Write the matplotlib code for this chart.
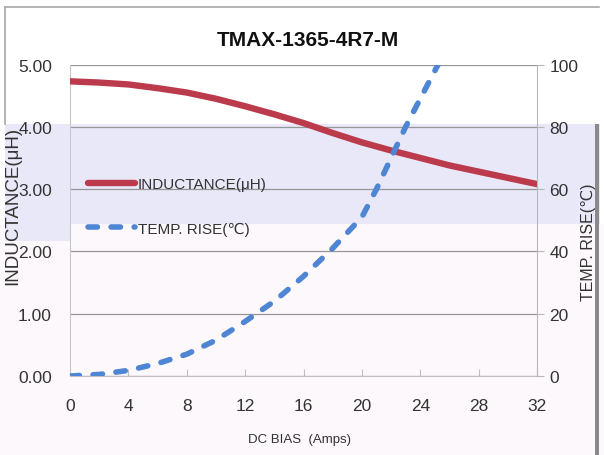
import matplotlib
matplotlib.use("Agg")
import matplotlib.pyplot as plt
from matplotlib.patches import Rectangle
from matplotlib.lines import Line2D

# ---- data ----
bias_L = [0, 2, 4, 6, 8, 10, 12, 14, 16, 18, 20, 22, 24, 26, 28, 30, 32]
inductance = [4.73, 4.71, 4.68, 4.62, 4.55, 4.45, 4.33, 4.20, 4.06, 3.90,
              3.75, 3.62, 3.50, 3.38, 3.28, 3.18, 3.08]
bias_T = [0, 2, 4, 6, 8, 10, 12, 14, 16, 18, 20, 21, 22, 23, 24, 25, 26]
temp_rise = [0, 0.5, 1.8, 4.0, 7.0, 11.5, 17.5, 24.0, 32.0, 41.0, 51.0,
             60.0, 70.0, 80.0, 89.0, 98.0, 107.0]
x_ticks = [0, 4, 8, 12, 16, 20, 24, 28, 32]
yL_ticks = [0, 1, 2, 3, 4, 5]
yL_labels = ["0.00", "1.00", "2.00", "3.00", "4.00", "5.00"]
yR_ticks = [0, 20, 40, 60, 80, 100]
title = "TMAX-1365-4R7-M"
label_L = "INDUCTANCE(μH)"
label_T = "TEMP. RISE(℃)"

FAM = ['Liberation Sans', 'DejaVu Sans', 'Noto Sans CJK SC']
plt.rcParams['font.family'] = FAM

W, H = 604, 456
fig = plt.figure(figsize=(W / 100, H / 100), dpi=100)
ft = fig.transFigure

# background bands (from the reference image)
fig.patches.append(Rectangle((0, 0), 1, 1 - 225 / H, transform=ft,
                             facecolor='#fdf8fb', edgecolor='none', zorder=-3))
fig.patches.append(Rectangle((5 / W, 1 - 225 / H), 595 / W, 100 / H, transform=ft,
                             facecolor='#e8e8f9', edgecolor='none', zorder=-2))
fig.patches.append(Rectangle((5 / W, 1 - 242 / H), 65 / W, 17 / H, transform=ft,
                             facecolor='#e8e8f9', edgecolor='none', zorder=-2))
fig.patches.append(Rectangle((595 / W, 0), 4 / W, 1 - 125 / H, transform=ft,
                             facecolor='#8a8a8a', edgecolor='none', zorder=-1))
fig.lines.append(Line2D([5 / W, 599 / W], [1 - 8 / H, 1 - 8 / H], transform=ft,
                        color='#a8a8a8', lw=1.2))
fig.lines.append(Line2D([5 / W, 5 / W], [1 - 8 / H, 1 - 125 / H], transform=ft,
                        color='#a8a8a8', lw=1.2))

left, right = 70 / W, 537 / W
bottom, top = 1 - 377 / H, 1 - 65.5 / H
ax = fig.add_axes([left, bottom, right - left, top - bottom])
ax.set_facecolor('none')
ax2 = ax.twinx()
ax2.set_facecolor('none')

red = '#bb3a4b'
blue = '#4f86d4'

l1, = ax.plot(bias_L, inductance, color=red, lw=4.6, solid_capstyle='round', zorder=3)
l2, = ax2.plot(bias_T, temp_rise, color=blue, lw=4.0, dashes=(1.7, 2.45),
               dash_capstyle='round', zorder=3)

ax.set_xlim(0, 32)
ax.set_ylim(0, 5)
ax2.set_ylim(0, 100)
ax.set_xticks(x_ticks)
ax.set_yticks(yL_ticks)
ax.set_yticklabels(yL_labels)
ax2.set_yticks(yR_ticks)

ax.grid(axis='y', color='#969696', lw=0.9)
ax.set_axisbelow(True)

for a in (ax, ax2):
    for s in a.spines.values():
        s.set_visible(False)
ax.spines['left'].set_visible(True)
ax.spines['left'].set_color('#c8c8c8')
ax.spines['bottom'].set_visible(True)
ax.spines['bottom'].set_color('#c0c0c0')
ax2.spines['right'].set_visible(True)
ax2.spines['right'].set_color('#b8b8b8')

ax.tick_params(axis='x', direction='in', length=5, color='#c0c0c0', pad=16,
               labelsize=12.5, labelcolor='#333333')
ax.tick_params(axis='y', length=0, pad=13, labelsize=12.5, labelcolor='#333333')
ax2.tick_params(axis='y', direction='out', length=5, color='#b8b8b8', pad=4,
                labelsize=12.5, labelcolor='#333333')

fig.text(308 / W, 1 - 40 / H, title, ha='center', va='center', fontsize=15,
         fontweight='bold', color='#111111')
fig.text(300 / W, 1 - 440 / H, "DC BIAS  (Amps)", ha='center', va='center',
         fontsize=9.5, color='#333333')
fig.text(21 / W, 1 - 206 / H, label_L, rotation=90, ha='right', va='center',
         fontsize=13.5, color='#333333')
fig.text(596 / W, 1 - 242 / H, label_T, rotation=90, ha='right', va='center',
         fontsize=11.5, color='#333333')

leg = ax.legend([l1, l2], [label_L, label_T], loc='upper left',
                bbox_to_anchor=(88 / W, 1 - 178 / H), bbox_transform=ft,
                frameon=False, fontsize=11, handlelength=3.1, handletextpad=0.15,
                labelspacing=2.0, borderpad=0, borderaxespad=0)
for t in leg.get_texts():
    t.set_color('#333333')

fig.savefig('out.png', dpi=100)
